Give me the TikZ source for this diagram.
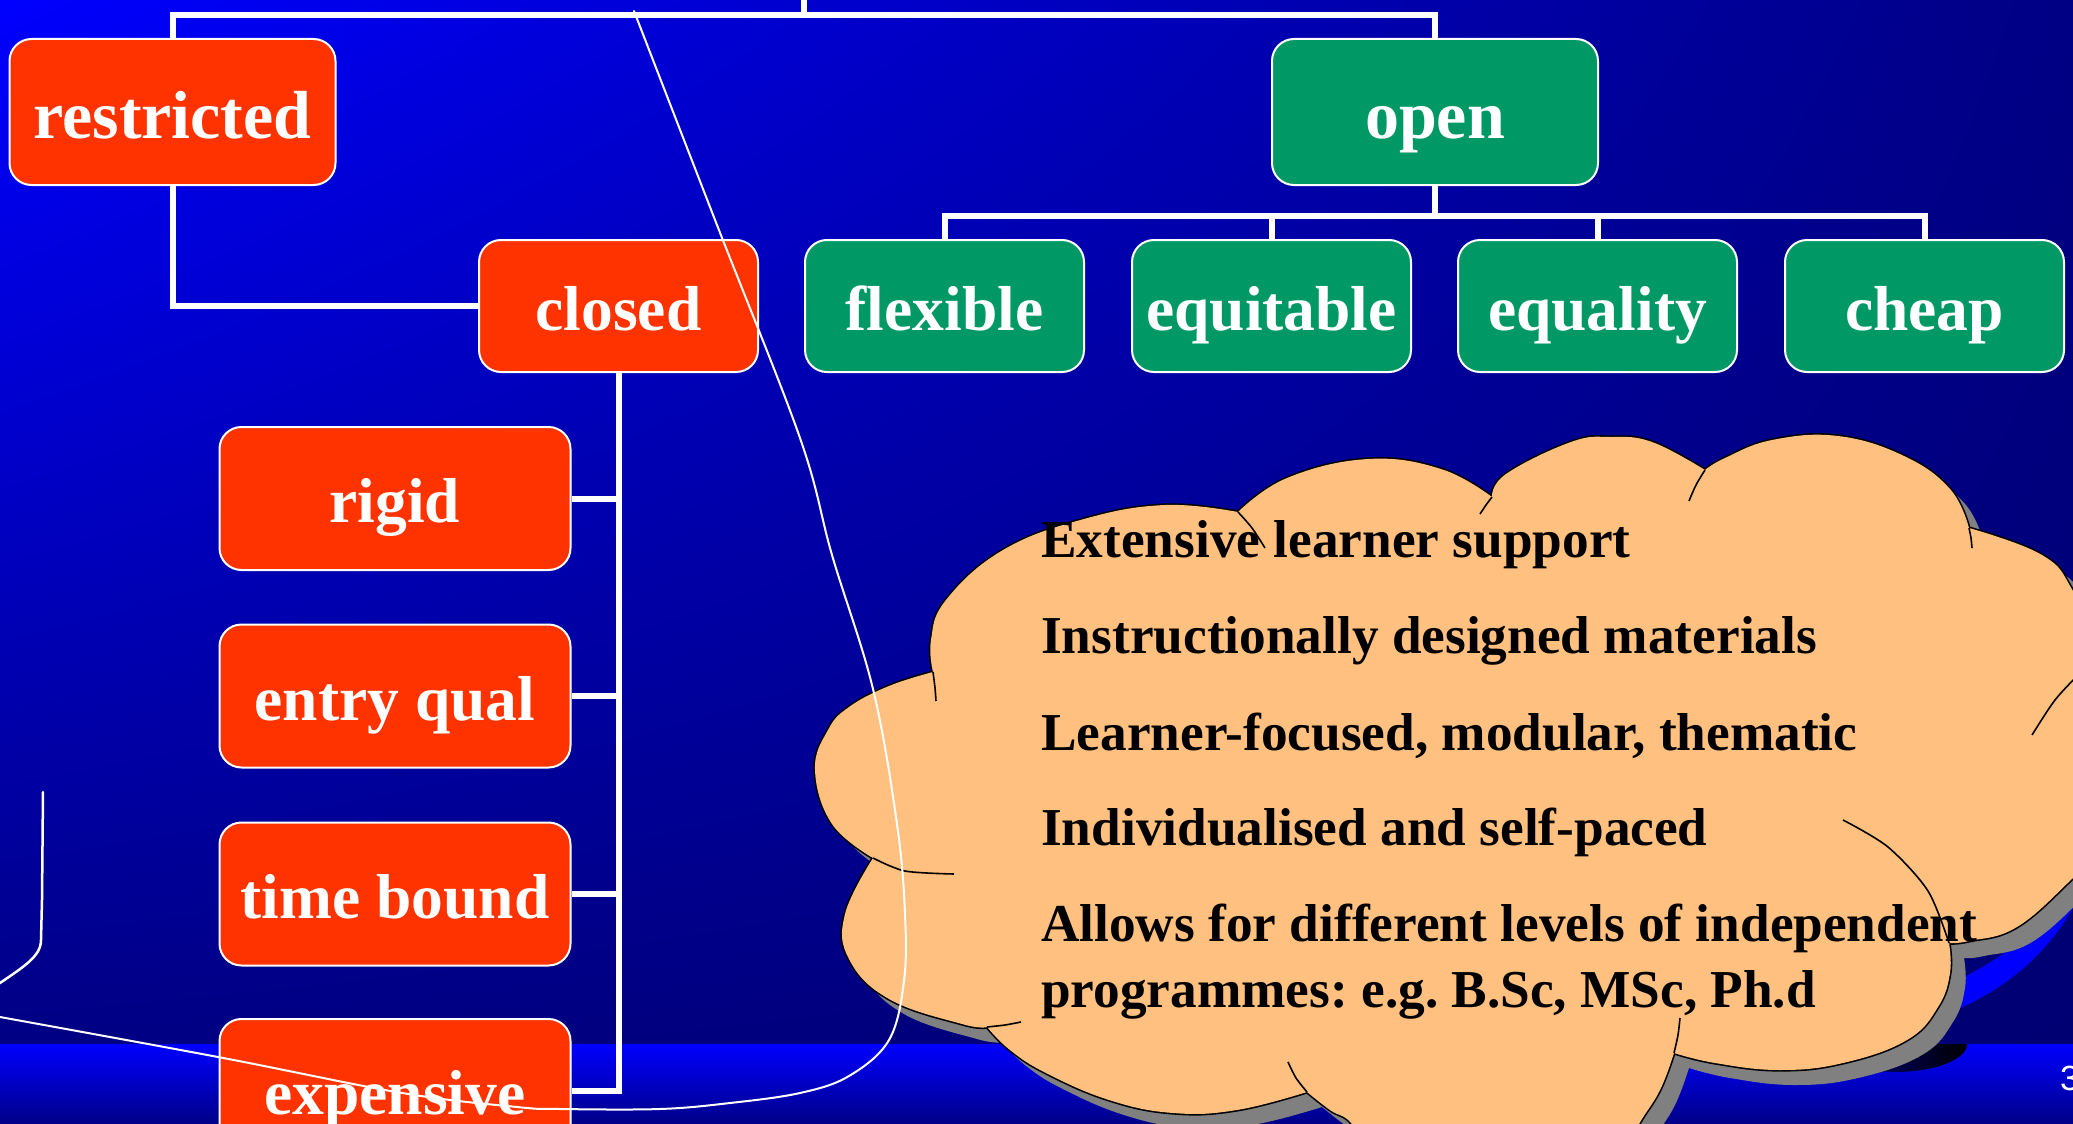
\documentclass[tikz,border=0pt]{standalone}
\usepackage{fontspec}
\usetikzlibrary{shadings}
\setmainfont{Liberation Serif}
\newfontfamily\numfont{Liberation Sans}
\frenchspacing
\definecolor{boxred}{RGB}{255,51,0}
\definecolor{boxgreen}{RGB}{0,153,102}
\definecolor{cloudfill}{RGB}{255,192,128}
\definecolor{cloudshade}{RGB}{128,128,128}
\definecolor{bgUL}{RGB}{0,0,255}
\definecolor{bgUR}{RGB}{0,0,132}
\definecolor{bgLL}{RGB}{0,0,132}
\definecolor{bgLR}{RGB}{0,0,115}
\definecolor{bandtop}{RGB}{0,0,255}
\definecolor{bandmid}{RGB}{0,0,225}
\definecolor{bandbot}{RGB}{0,0,135}
\definecolor{brightblue}{RGB}{0,0,255}
\definecolor{dropnavy}{RGB}{0,0,150}

% outline of the callout cloud, one smooth arc per puff
\newcommand\cloudoutline{%
  plot[smooth,tension=0.7] coordinates {(933,672) (931,640) (946,600) (1003,550) (1084,519) (1165,505) (1238,512)}
  -- plot[smooth,tension=0.7] coordinates {(1238,512) (1287,478) (1368,459) (1441,469) (1492,497)}
  -- plot[smooth,tension=0.7] coordinates {(1492,497) (1506,474) (1571,442) (1611,437) (1652,442) (1705,470)}
  -- plot[smooth,tension=0.7] coordinates {(1705,470) (1725,458) (1772,440) (1838,436) (1904,456) (1950,489) (1969,528)}
  -- plot[smooth,tension=0.7] coordinates {(1969,528) (2042,555) (2073,591) (2105,660)}
  -- (2115,850)
  -- plot[smooth,tension=0.7] coordinates {(2110,840) (2073,878) (2017,927) (1969,941) (1949,943)}
  -- plot[smooth,tension=0.7] coordinates {(1949,943) (1950,973) (1938,1007) (1907,1040) (1843,1063) (1779,1070) (1715,1063) (1674,1053)}
  -- plot[smooth,tension=0.7] coordinates {(1674,1053) (1660,1090) (1639,1124) (1620,1160)}
  -- (1370,1160)
  -- plot[smooth,tension=0.7] coordinates {(1370,1160) (1352,1124) (1330,1110) (1307,1092)}
  -- plot[smooth,tension=0.7] coordinates {(1307,1092) (1237,1110) (1173,1113) (1109,1100) (1046,1073) (1010,1050) (987,1027)}
  -- plot[smooth,tension=0.7] coordinates {(987,1027) (962,1024) (889,999) (849,959) (845,914) (873,858)}
  -- plot[smooth,tension=0.7] coordinates {(873,858) (832,824) (815,770) (828,730) (849,707) (889,686) (933,672)}
  -- cycle}

\begin{document}
\begin{tikzpicture}[x=1pt,y=-1pt,
  box/.style={draw=white, line width=2pt, rounded corners=22pt, inner sep=0pt, text=white},
  bigword/.style={font=\fontsize{68}{80}\selectfont\bfseries, text height=66pt, text depth=14pt},
  word/.style={font=\fontsize{63.5}{75}\selectfont\bfseries, text height=61pt, text depth=13pt},
  toplevel/.style={box, bigword, minimum width=326pt, minimum height=146pt},
  midlevel/.style={box, word, minimum width=279pt, minimum height=132pt},
  sidelevel/.style={box, word, minimum width=351pt, minimum height=143pt},
  link/.style={draw=white, line width=6pt},
  cloudline/.style={draw=black, line width=1.6pt},
  cloudtext/.style={anchor=base west, inner sep=0pt, text=black, font=\fontsize{53.3}{60}\selectfont\bfseries},
  scribble/.style={draw=white, line width=2pt, line cap=round, line join=round}]

\useasboundingbox (0,0) rectangle (2073,1124);
\clip (0,0) rectangle (2073,1124);

% slide background
\shade[upper left=bgUL, upper right=bgUR, lower left=bgLL, lower right=bgLR] (0,0) rectangle (2073,1044);
\shade[top color=bandtop, middle color=bandmid, bottom color=bandbot] (0,1044) rectangle (2073,1124);

% dark drop under the cloud
\shade[left color=dropnavy, right color=black] (1823,1044) arc[start angle=180, end angle=0, x radius=72, y radius=28] -- cycle;

% bright crescent behind the cloud
\fill[brightblue] (2085,885) .. controls (2050,960) and (1995,998) .. (1925,1022)
  -- (1935,990) .. controls (1990,968) and (2040,935) .. (2085,868) -- cycle;

% cloud: shadow, body, outline
\fill[cloudshade, shift={(15,15)}] \cloudoutline;
\draw[black, line width=3.2pt] \cloudoutline;
\fill[cloudfill] \cloudoutline;

% inner arcs of the puffs
\draw[cloudline] plot[smooth] coordinates {(933,672) (935,688) (936,701)};
\draw[cloudline] plot[smooth] coordinates {(1238,512) (1252,528) (1265,548)};
\draw[cloudline] plot[smooth] coordinates {(1492,497) (1486,505) (1480,514)};
\draw[cloudline] plot[smooth] coordinates {(1705,470) (1696,485) (1689,501)};
\draw[cloudline] plot[smooth] coordinates {(1969,528) (1971,538) (1972,548)};
\draw[cloudline] plot[smooth] coordinates {(2080,673) (2055,700) (2032,735)};
\draw[cloudline] plot[smooth] coordinates {(1843,820) (1888,847) (1928,891) (1949,943)};
\draw[cloudline] plot[smooth] coordinates {(1674,1053) (1678,1035) (1680,1018)};
\draw[cloudline] plot[smooth] coordinates {(1307,1092) (1296,1078) (1288,1062)};
\draw[cloudline] plot[smooth] coordinates {(987,1027) (1005,1025) (1021,1022)};
\draw[cloudline] plot[smooth] coordinates {(873,858) (905,871) (954,874)};

% cloud text
\node[cloudtext] (c1) at (1041,557) {Extensive learner support};
\node[cloudtext] (c2) at (1041,653.5) {Instructionally designed materials};
\node[cloudtext] (c3) at (1041,750) {Learner-focused, modular, thematic};
\node[cloudtext] (c4) at (1041,845) {Individualised and self-paced};
\node[cloudtext] (c5) at (1041,941) {Allows for different levels of independent};
\node[cloudtext] (c6) at (1041,1007) {programmes: e.g. B.Sc, MSc, Ph.d};

% tree boxes
\node[toplevel, fill=boxred] (restricted) at (172.5,112) {restricted};
\node[toplevel, fill=boxgreen] (open) at (1435,112) {open};
\node[midlevel, fill=boxred] (closed) at (618.5,306) {closed};
\node[midlevel, fill=boxgreen] (flexible) at (944.5,306) {flexible};
\node[midlevel, fill=boxgreen] (equitable) at (1271.5,306) {equitable};
\node[midlevel, fill=boxgreen] (equality) at (1597.5,306) {equality};
\node[midlevel, fill=boxgreen] (cheap) at (1924.5,306) {cheap};
\node[sidelevel, fill=boxred] (rigid) at (395,498.5) {rigid};
\node[sidelevel, fill=boxred] (entryqual) at (395,696) {entry qual};
\node[sidelevel, fill=boxred] (timebound) at (395,894) {time bound};
\node[sidelevel, fill=boxred] (expensive) at (395,1090.5) {expensive};

% tree connectors
\coordinate (hub) at (804,15);
\coordinate (parent) at (804,-10);
\coordinate (openbus) at (1435,216);
\draw[link] (restricted.north) |- (hub) -| (open.north);
\draw[link] (hub) -- (parent);
\draw[link] (restricted.south) |- (closed.west);
\foreach \c in {rigid,entryqual,timebound,expensive}
  \draw[link] (closed.south) |- (\c.east);
\draw[link] (open.south) -- (openbus);
\foreach \c in {flexible,equitable,equality,cheap}
  \draw[link] (openbus) -| (\c.north);

% freehand pen strokes
\draw[scribble] plot[smooth, tension=0.6] coordinates {(634,11) (717,225) (800,438) (832,555) (873,689) (897,824) (905,914) (904,981) (889,1040) (849,1076) (800,1093) (730,1103) (660,1109) (560,1109) (517,1107) (402,1093) (218,1057) (0,1017)};
\draw[scribble, line width=2.5pt] (43,792) -- (42,900) -- (41,940) .. controls (41,956) and (25,966) .. (-3,985);

% slide number
\node[anchor=base west, inner sep=0pt, text=white, font=\numfont\fontsize{35}{40}\selectfont] (pagenum) at (2060,1090) {3};
\end{tikzpicture}
\end{document}
